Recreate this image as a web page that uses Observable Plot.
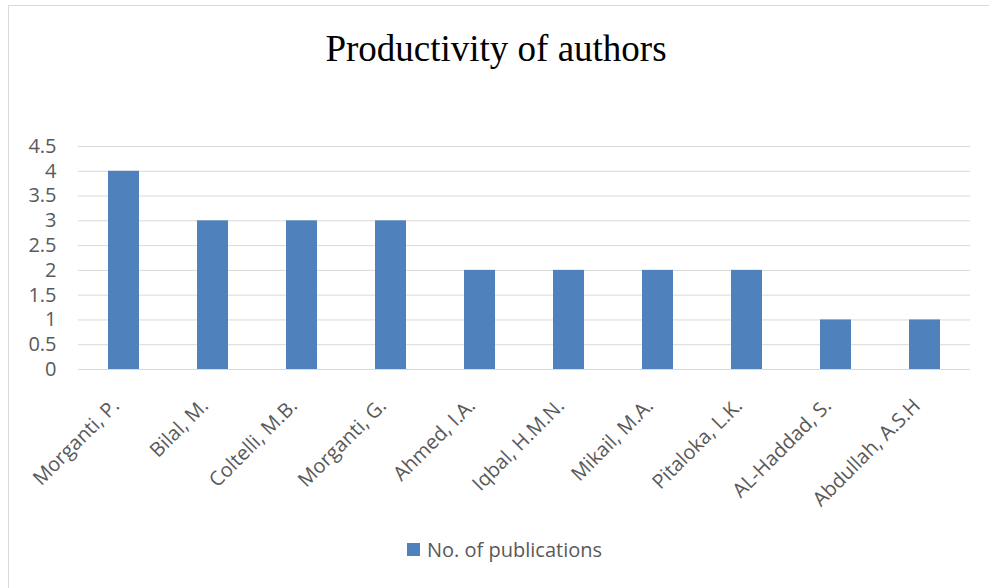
<!DOCTYPE html>
<html>
<head>
<meta charset="utf-8">
<script src="https://cdn.jsdelivr.net/npm/d3@7"></script>
<script src="https://cdn.jsdelivr.net/npm/@observablehq/plot@0.6"></script>
<style>
  html, body { margin: 0; padding: 0; background: #fff; }
  #wrap { position: relative; width: 989px; height: 588px; overflow: hidden; }
  #frame { position: absolute; left: 8px; top: 5px; width: 990px; height: 600px; border: 1px solid #d9d9d9; box-sizing: border-box; }
  #title { position: absolute; left: 0; width: 992px; top: 27px; text-align: center; font-family: "Liberation Serif", "Times New Roman", serif; font-size: 37px; color: #000; line-height: 1.2; }
  #legend { position: absolute; left: 407px; top: 536px; font-family: "Open Sans", sans-serif; font-size: 20px; color: #595959; display: flex; align-items: center; }
  #legend .sw { width: 13px; height: 13px; background: #4f81bd; margin-right: 7px; }
  #chart { position: absolute; left: 0; top: 0; }
</style>
</head>
<body>
<div id="wrap">
  <div id="frame"></div>
  <div id="chart"></div>
  <div id="title">Productivity of authors</div>
  <div id="legend"><div class="sw"></div><span>No. of publications</span></div>
</div>
<script>
const authors = ["Morganti, P.", "Bilal, M.", "Coltelli, M.B.", "Morganti, G.", "Ahmed, I.A.", "Iqbal, H.M.N.", "Mikail, M.A.", "Pitaloka, L.K.", "AL-Haddad, S.", "Abdullah, A.S.H"];
const publications = [4, 3, 3, 3, 2, 2, 2, 2, 1, 1];
const yTicks = [0, 0.5, 1, 1.5, 2, 2.5, 3, 3.5, 4, 4.5];
const seriesName = "No. of publications";

const data = authors.map((a, i) => ({author: a, value: publications[i]}));

const chart = Plot.plot({
  width: 989,
  height: 588,
  marginTop: 146,
  marginBottom: 219,
  marginLeft: 78,
  marginRight: 19,
  style: {background: "transparent", fontFamily: "'Open Sans', sans-serif", fontSize: "20px", color: "#595959"},
  x: {domain: authors, paddingInner: 0.65, paddingOuter: 0.325, label: null},
  y: {domain: [0, 4.5], label: null},
  marks: [
    Plot.gridY(yTicks, {stroke: "#d9d9d9", strokeOpacity: 1, strokeWidth: 1}),
    Plot.barY(data, {x: "author", y: "value", fill: "#4f81bd"}),
    Plot.axisY(yTicks, {tickSize: 0, tickPadding: 22, tickFormat: d => String(d), fill: "#595959"}),
    Plot.axisX({tickSize: 0, tickRotate: -45, tickPadding: 24, dx: -8, dy: 9, fill: "#595959"}),
    Plot.ruleY([0], {stroke: "#d9d9d9"})
  ]
});
document.getElementById("chart").appendChild(chart);
</script>
</body>
</html>
